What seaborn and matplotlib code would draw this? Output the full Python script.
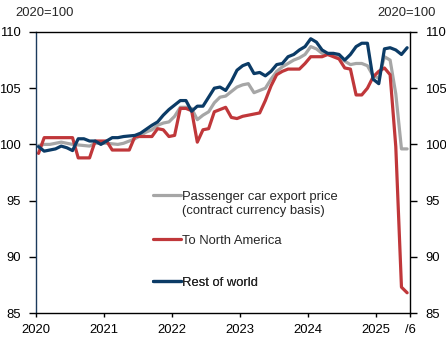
import numpy as np
import pandas as pd
import seaborn as sns
import matplotlib.pyplot as plt
from matplotlib.lines import Line2D

# Monthly index values, Jan 2020 - Jun 2025 (2020 = 100)
months = pd.period_range("2020-01", "2025-06", freq="M")

all_markets = [
    99.9, 100.0, 100.0, 100.1, 100.2, 100.1, 100.0, 99.95, 99.9, 99.85, 100.1, 100.1,
    100.1, 100.05, 100.0, 100.1, 100.3, 100.5, 100.8, 101.1, 101.3, 101.7, 101.9, 102.0,
    102.5, 103.3, 103.3, 103.2, 102.2, 102.6, 102.9, 103.7, 104.2, 104.3, 104.7, 105.1,
    105.3, 105.4, 104.6, 104.8, 105.0, 105.8, 106.5, 106.9, 107.2, 107.5, 107.7, 108.0,
    108.7, 108.5, 108.1, 108.0, 107.9, 107.8, 107.4, 107.1, 107.2, 107.2, 107.0, 106.1,
    105.9, 107.8, 107.5, 104.5, 99.6, 99.6,
]
north_america = [
    99.2, 100.6, 100.6, 100.6, 100.6, 100.6, 100.6, 98.8, 98.8, 98.8, 100.3, 100.3,
    100.3, 99.5, 99.5, 99.5, 99.5, 100.7, 100.7, 100.7, 100.7, 101.4, 101.3, 100.7,
    100.8, 103.2, 103.2, 103.0, 100.2, 101.3, 101.4, 102.9, 103.1, 103.3, 102.4, 102.3,
    102.5, 102.6, 102.7, 102.8, 103.9, 105.2, 106.2, 106.5, 106.7, 106.7, 106.7, 107.2,
    107.8, 107.8, 107.8, 108.0, 107.8, 107.6, 106.8, 106.7, 104.4, 104.4, 105.0, 106.0,
    106.5, 106.8, 106.2, 99.8, 87.3, 86.8,
]
rest_of_world = [
    99.8, 99.4, 99.5, 99.6, 99.85, 99.7, 99.45, 100.5, 100.5, 100.3, 100.3, 100.0,
    100.3, 100.6, 100.6, 100.7, 100.75, 100.8, 101.0, 101.35, 101.7, 102.0, 102.6, 103.1,
    103.5, 103.9, 103.9, 102.95, 103.4, 103.4, 104.2, 105.0, 105.1, 104.8, 105.6, 106.6,
    107.0, 107.2, 106.3, 106.4, 106.1, 106.5, 107.1, 107.2, 107.8, 108.0, 108.4, 108.7,
    109.4, 109.1, 108.4, 108.1, 108.1, 108.0, 107.5, 108.0, 108.7, 109.0, 109.0, 105.8,
    105.4, 108.5, 108.6, 108.4, 108.0, 108.6,
]

series_names = ["Passenger car export price", "To North America", "Rest of world"]
name_note = "(contract currency basis)"
series_colors = ["#A6A6A6", "#C0373A", "#0B3B66"]
x_tick_labels = ["2020", "2021", "2022", "2023", "2024", "2025", "/6"]
y_ticks = [85, 90, 95, 100, 105, 110]
base_label = "2020=100"

# Months sit at the centres of their category slots
pos = np.arange(len(months)) + 0.5
df = pd.concat(
    [
        pd.DataFrame({"pos": pos, "value": vals, "series": name})
        for name, vals in zip(series_names, [all_markets, north_america, rest_of_world])
    ],
    ignore_index=True,
)

sns.set_theme(style="white")
plt.rcParams["font.family"] = ["Liberation Sans", "DejaVu Sans"]
fs = 9.4
lw = 2.3

fig = plt.figure(figsize=(4.46, 3.40), dpi=100)
ax = fig.add_axes([0.080, 0.0794, 0.8392, 0.8265])

palette = dict(zip(series_names, series_colors))
sns.lineplot(
    data=df, x="pos", y="value", hue="series", hue_order=series_names,
    palette=palette, linewidth=lw, legend=False, sort=False, ax=ax,
)

n = len(months)
ax.set_xlim(0, n)
ax.set_ylim(85, 110)
ax.set_xticks([0, 12, 24, 36, 48, 60, n])
ax.set_xticklabels(x_tick_labels, fontsize=fs)
ax.set_yticks(y_ticks)
ax.set_yticklabels([str(v) for v in y_ticks], fontsize=fs)
ax.set_xlabel("")
ax.set_ylabel("")

for side, sp in ax.spines.items():
    sp.set_visible(True)
    sp.set_linewidth(1.0)
    sp.set_color("black")
ax.spines["left"].set_color("#1B3A5C")

ax.tick_params(axis="y", which="both", left=True, right=True, labelleft=True,
               labelright=True, direction="out", length=5, width=1.0, pad=6,
               colors="black")
ax.tick_params(axis="x", bottom=True, direction="out", length=3, width=1.0, pad=5,
               colors="black")
ax.grid(False)

legend_kw = dict(loc="upper left", frameon=False, fontsize=fs, handlelength=2.15,
                 handletextpad=0.1, borderpad=0, borderaxespad=0)

# Export price entry: its note sits on a second line under the name
leg = ax.legend(
    handles=[Line2D([], [], color=series_colors[0], linewidth=lw),
             Line2D([], [], color="none", linewidth=0)],
    labels=[series_names[0], name_note],
    bbox_to_anchor=(0.313, 0.435), labelspacing=0.12, **legend_kw,
)
ax.add_artist(leg)

for name, color, ya in zip(series_names[1:], series_colors[1:], [0.278, 0.129]):
    leg = ax.legend(
        handles=[Line2D([], [], color=color, linewidth=lw)], labels=[name],
        bbox_to_anchor=(0.313, ya), **legend_kw,
    )
    ax.add_artist(leg)

fig.text(15 / 446, 1 - 13 / 340, base_label, fontsize=fs, ha="left", va="center")
fig.text(436 / 446, 1 - 13 / 340, base_label, fontsize=fs, ha="right", va="center")

fig.savefig("out.png", dpi=100)
